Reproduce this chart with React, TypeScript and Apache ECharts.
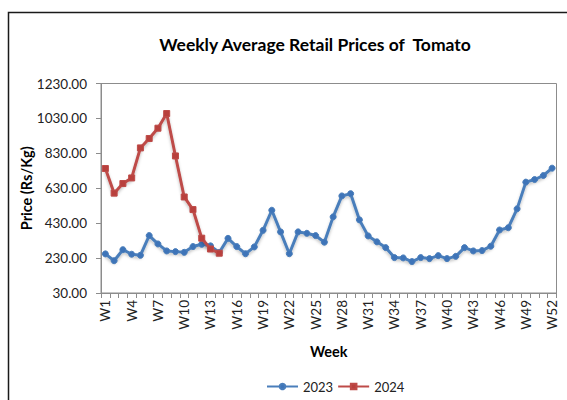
import React, { useEffect, useRef } from "react";
import * as echarts from "echarts";

const weeks: string[] = Array.from({ length: 52 }, (_, i) => `W${i + 1}`);

const prices2023: number[] = [
  254, 215, 278, 252, 246, 359, 311, 271, 267, 263,
  296, 309, 300, 262, 343, 296, 255, 294, 389, 504,
  380, 255, 380, 372, 359, 321, 466, 586, 599, 449,
  357, 323, 290, 233, 231, 210, 233, 227, 244, 227,
  240, 290, 271, 273, 298, 391, 404, 512, 665, 680,
  703, 745,
];

const prices2024: (number | null)[] = [
  743, 602, 657, 689, 861, 915, 974, 1058, 815, 580,
  508, 344, 282, 258,
];

const yTicks: number[] = [30, 230, 430, 630, 830, 1030, 1230];

const FONT = "Lato, 'Liberation Sans', sans-serif";

export default function App() {
  const ref = useRef<HTMLDivElement>(null);
  useEffect(() => {
    if (!ref.current) return;
    const chart = echarts.init(ref.current, undefined, { renderer: "svg" });
    chart.setOption({
      animation: false,
      backgroundColor: "#fff",
      textStyle: { fontFamily: FONT },
      title: {
        text: "Weekly Average Retail Prices of  Tomato",
        left: 310,
        textAlign: "center",
        top: 30,
        textStyle: { fontSize: 17.5, fontWeight: "bold", color: "#000", fontFamily: FONT },
      },
      graphic: [
        {
          type: "rect",
          shape: { x: 8.5, y: 12.5, width: 620, height: 450 },
          style: { fill: "none", stroke: "#1a1a1a", lineWidth: 1.5 },
          silent: true,
        },
      ],
      grid: {
        left: 101,
        right: 10.5,
        top: 83.5,
        bottom: 107,
        show: true,
        borderColor: "#8c8c8c",
        borderWidth: 1,
        containLabel: false,
      },
      legend: {
        left: 266,
        top: 380,
        padding: 0,
        itemWidth: 31,
        itemHeight: 7,
        itemGap: 4,
        textStyle: { fontSize: 13, color: "#222", fontFamily: FONT },
        data: ["2023", "2024"],
      },
      xAxis: {
        type: "category",
        data: weeks,
        boundaryGap: true,
        name: "Week",
        nameLocation: "middle",
        nameGap: 51,
        nameMoveOverlap: false,
        nameTextStyle: { fontSize: 14.5, fontWeight: "bold", color: "#000", fontFamily: FONT },
        axisLine: { show: true, lineStyle: { color: "#8c8c8c" } },
        axisTick: { show: true, interval: 0, length: 5, lineStyle: { color: "#8c8c8c" } },
        axisLabel: {
          interval: 2,
          rotate: 90,
          margin: 7,
          fontSize: 13.5,
          color: "#222",
          fontFamily: FONT,
        },
        splitLine: { show: false },
      },
      yAxis: {
        type: "value",
        min: 30,
        max: 1230,
        name: "Price (Rs/Kg)",
        nameLocation: "middle",
        nameGap: 67,
        nameRotate: 90,
        nameMoveOverlap: false,
        nameTextStyle: { fontSize: 14.5, fontWeight: "bold", color: "#000", fontFamily: FONT },
        axisLine: { show: true, lineStyle: { color: "#8c8c8c" } },
        axisTick: { show: true, length: 5, customValues: yTicks, lineStyle: { color: "#8c8c8c" } },
        axisLabel: {
          customValues: yTicks,
          formatter: (v: number) => v.toFixed(2),
          margin: 14,
          fontSize: 13.5,
          color: "#222",
          fontFamily: FONT,
        },
        splitLine: { show: false },
      },
      series: [
        {
          name: "2023",
          type: "line",
          data: prices2023,
          symbol: "circle",
          symbolSize: 6,
          showSymbol: true,
          showAllSymbol: true,
          color: "#4A7EBB",
          lineStyle: {
            width: 3,
            color: "#4A7EBB",
            shadowColor: "rgba(0,0,0,0.25)",
            shadowBlur: 3,
            shadowOffsetY: 2,
          },
          itemStyle: { color: "#3E74B8", borderColor: "#4A7EBB", borderWidth: 1 },
          z: 2,
        },
        {
          name: "2024",
          type: "line",
          data: prices2024,
          symbol: "rect",
          symbolSize: 6,
          showSymbol: true,
          showAllSymbol: true,
          color: "#BE4B48",
          lineStyle: {
            width: 3,
            color: "#BE4B48",
            shadowColor: "rgba(0,0,0,0.25)",
            shadowBlur: 3,
            shadowOffsetY: 2,
          },
          itemStyle: { color: "#B8403D", borderColor: "#BE4B48", borderWidth: 1 },
          z: 3,
        },
      ],
    });
    return () => chart.dispose();
  }, []);
  return (
    <div
      ref={ref}
      style={{ position: "absolute", left: 0, top: 0, width: 567, height: 400 }}
    />
  );
}
